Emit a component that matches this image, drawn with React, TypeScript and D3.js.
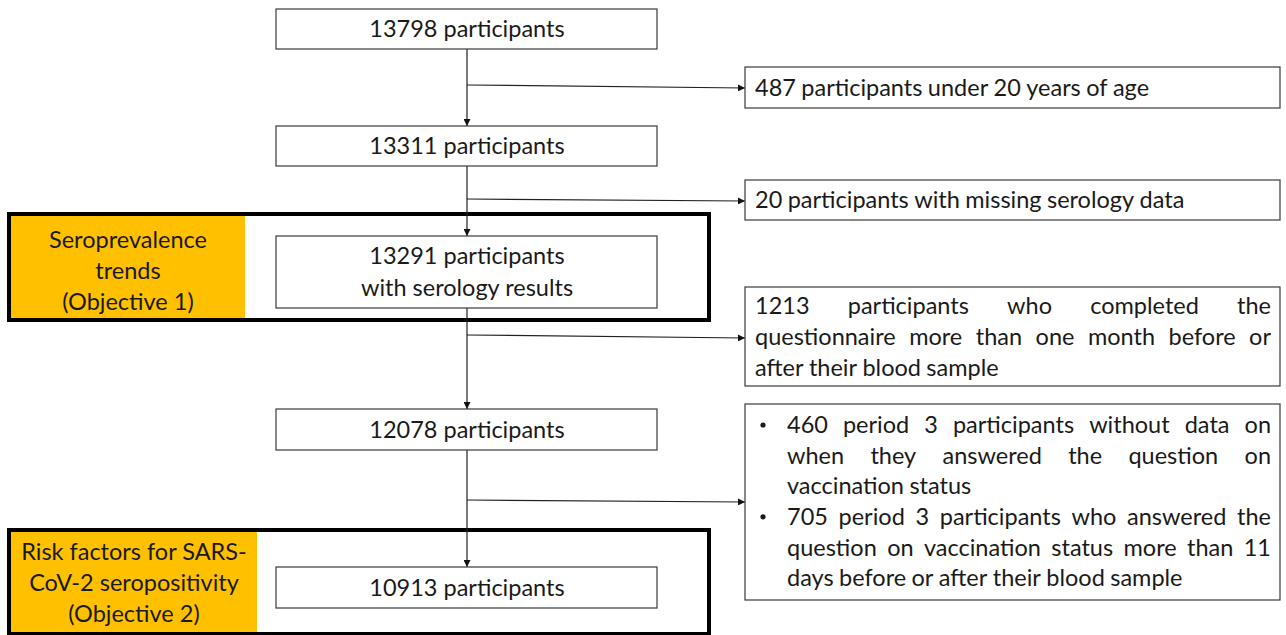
import React, { useEffect, useRef } from 'react';
import * as d3 from 'd3';

// main flow boxes (top to bottom)
const mainLabels: string[][] = [
  ['13798 participants'],
  ['13311 participants'],
  ['13291 participants', 'with serology results'],
  ['12078 participants'],
  ['10913 participants'],
];

// exclusion boxes, one per step; lines as broken in the figure
const exclusionLines: string[][] = [
  ['487 participants under 20 years of age'],
  ['20 participants with missing serology data'],
  ['1213 participants who completed the', 'questionnaire more than one month before or', 'after their blood sample'],
  [],
];
const bulletLines: string[][] = [
  ['460 period 3 participants without data on', 'when they answered the question on', 'vaccination status'],
  ['705 period 3 participants who answered the', 'question on vaccination status more than 11', 'days before or after their blood sample'],
];

const objectiveLabels: string[][] = [
  ['Seroprevalence', 'trends', '(Objective 1)'],
  ['Risk factors for SARS-', 'CoV-2 seropositivity', '(Objective 2)'],
];

const W = 1286;
const H = 635;
const FONT = 'Lato, "Open Sans", sans-serif';
const FS = 23.5;
const INK = '#1a1a1a';
const EDGE = '#3a3a3a';
const GOLD = '#FFC000';

const App: React.FC = () => {
  const svgRef = useRef<SVGSVGElement>(null);

  useEffect(() => {
    if (!svgRef.current) return;
    const svg = d3.select(svgRef.current);
    svg.selectAll('*').remove();

    const cx = 467;
    const boxX = d3.scaleLinear().domain([0, 1]).range([276, 657]);
    const mainY = [[9, 49], [126, 166], [236, 308], [409, 450], [567, 608]];
    const exX = [745, 1280];
    const exY = [[67, 108], [180, 220], [287, 386], [404, 600]];
    const branchY = [[85, 88], [199, 201], [335, 338], [500, 502]];
    const objBox = [
      { outer: [9, 214, 709, 320], fill: [11, 216, 245, 318], dy: 4 },
      { outer: [9, 530, 709, 634], fill: [11, 532, 257, 632], dy: 1 },
    ];
    const lineH = 31;

    const defs = svg.append('defs');
    defs.append('marker')
      .attr('id', 'arr')
      .attr('viewBox', '0 0 10 10')
      .attr('refX', 10).attr('refY', 5)
      .attr('markerWidth', 7).attr('markerHeight', 7)
      .attr('markerUnits', 'userSpaceOnUse')
      .attr('orient', 'auto')
      .append('path')
      .attr('d', 'M0,0L10,5L0,10Z')
      .attr('fill', '#111');

    // objective frames
    objBox.forEach((o, i) => {
      svg.append('rect')
        .attr('x', o.fill[0]).attr('y', o.fill[1])
        .attr('width', o.fill[2] - o.fill[0]).attr('height', o.fill[3] - o.fill[1])
        .attr('fill', GOLD);
      svg.append('rect')
        .attr('x', o.outer[0]).attr('y', o.outer[1])
        .attr('width', o.outer[2] - o.outer[0]).attr('height', o.outer[3] - o.outer[1])
        .attr('fill', 'none')
        .attr('stroke', '#000')
        .attr('stroke-width', 4);
      const lines = objectiveLabels[i];
      const midY = (o.fill[1] + o.fill[3]) / 2 + o.dy;
      const tx = (o.fill[0] + o.fill[2]) / 2;
      lines.forEach((t, k) => {
        svg.append('text')
          .attr('x', tx)
          .attr('y', midY + (k - (lines.length - 1) / 2) * lineH)
          .attr('dy', '0.35em')
          .attr('text-anchor', 'middle')
          .attr('font-family', FONT).attr('font-size', FS)
          .attr('fill', INK)
          .text(t);
      });
    });

    // vertical connectors
    for (let i = 0; i < mainY.length - 1; i++) {
      svg.append('line')
        .attr('x1', cx).attr('y1', mainY[i][1])
        .attr('x2', cx).attr('y2', mainY[i + 1][0])
        .attr('stroke', '#222').attr('stroke-width', 1.2)
        .attr('marker-end', 'url(#arr)');
    }
    // side branches
    branchY.forEach(b => {
      svg.append('line')
        .attr('x1', cx).attr('y1', b[0])
        .attr('x2', exX[0]).attr('y2', b[1])
        .attr('stroke', '#222').attr('stroke-width', 1.2)
        .attr('marker-end', 'url(#arr)');
    });

    // main boxes
    mainLabels.forEach((lines, i) => {
      const [y0, y1] = mainY[i];
      svg.append('rect')
        .attr('x', boxX(0)).attr('y', y0)
        .attr('width', boxX(1) - boxX(0)).attr('height', y1 - y0)
        .attr('fill', '#fff')
        .attr('stroke', EDGE).attr('stroke-width', 1.2);
      const mid = (y0 + y1) / 2;
      lines.forEach((t, k) => {
        svg.append('text')
          .attr('x', cx)
          .attr('y', mid + (k - (lines.length - 1) / 2) * 32)
          .attr('dy', '0.35em')
          .attr('text-anchor', 'middle')
          .attr('font-family', FONT).attr('font-size', FS)
          .attr('fill', INK)
          .text(t);
      });
    });

    // justified line helper
    const justify = (t: string, x0: number, x1: number, y: number, full: boolean) => {
      const words = t.split(' ');
      const g = svg.append('g');
      const nodes = words.map(w => g.append('text')
        .attr('y', y).attr('dy', '0.35em')
        .attr('font-family', FONT).attr('font-size', FS)
        .attr('fill', INK)
        .text(w));
      const widths = nodes.map(n => (n.node() as SVGTextElement).getComputedTextLength());
      const spaceW = FS * 0.23;
      const total = d3.sum(widths);
      const gap = full && words.length > 1 ? (x1 - x0 - total) / (words.length - 1) : spaceW;
      let x = x0;
      nodes.forEach((n, k) => {
        n.attr('x', x);
        x += widths[k] + gap;
      });
    };

    // exclusion boxes
    exY.forEach((yy, i) => {
      svg.append('rect')
        .attr('x', exX[0]).attr('y', yy[0])
        .attr('width', exX[1] - exX[0]).attr('height', yy[1] - yy[0])
        .attr('fill', '#fff')
        .attr('stroke', EDGE).attr('stroke-width', 1.2);
      const lines = exclusionLines[i];
      const mid = (yy[0] + yy[1]) / 2;
      lines.forEach((t, k) => {
        const y = mid + (k - (lines.length - 1) / 2) * lineH;
        justify(t, 755, 1271, y, lines.length > 1 && k < lines.length - 1);
      });
    });

    // bulleted box
    const bTop = exY[3][0] + 21;
    let row = 0;
    bulletLines.forEach(lines => {
      lines.forEach((t, k) => {
        const y = bTop + row * 30.6;
        if (k === 0) {
          svg.append('circle')
            .attr('cx', 763).attr('cy', y)
            .attr('r', 2.6)
            .attr('fill', INK);
        }
        justify(t, 787, 1271, y, k < lines.length - 1);
        row++;
      });
    });
  }, []);

  return (
    <svg
      ref={svgRef}
      width={W}
      height={H}
      viewBox={`0 0 ${W} ${H}`}
      style={{ position: 'absolute', left: 0, top: 0, background: '#fff' }}
    />
  );
};

export default App;
